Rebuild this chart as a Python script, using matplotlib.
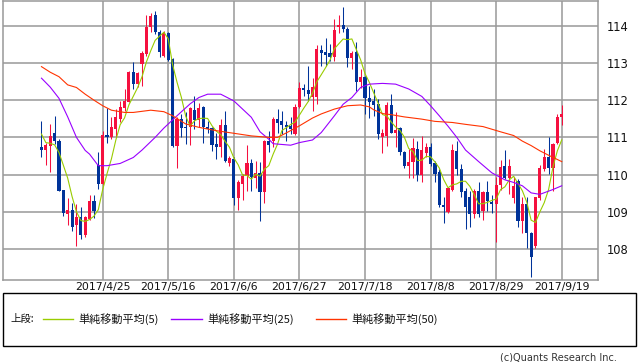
import matplotlib
matplotlib.use("Agg")
import matplotlib.pyplot as plt
import numpy as np
import pandas as pd
from matplotlib.lines import Line2D
from matplotlib.patches import Rectangle

# ---- data (USD/JPY daily) ----
dates = pd.bdate_range("2017-04-05", "2017-09-19")
opens = [110.75,110.66,110.76,111.11,110.91,109.59,108.95,109.05,108.64,108.87,
         108.37,108.81,109.30,110.25,109.74,111.07,111.00,111.22,111.50,111.80,
         111.94,112.75,112.43,112.97,113.24,113.96,114.30,113.82,113.19,113.79,
         113.10,110.77,111.49,111.29,111.28,111.74,111.47,111.82,111.285,111.24,
         110.82,110.73,111.34,110.31,110.42,109.37,109.76,109.97,110.32,109.90,
         110.04,109.52,110.91,110.91,111.49,111.45,111.34,111.31,111.09,111.82,
         112.32,112.27,112.09,112.09,113.35,113.28,113.26,113.17,113.96,114.03,
         113.91,113.13,113.28,112.48,112.61,112.06,111.98,111.89,111.02,111.04,
         111.87,111.13,111.25,110.62,110.22,110.33,110.70,110.00,110.57,110.73,
         110.30,110.06,109.19,109.00,109.59,110.64,110.16,109.55,109.39,108.94,
         109.55,109.03,109.54,109.27,109.22,109.72,110.22,109.92,109.37,109.82,
         108.76,109.22,108.44,108.09,109.37,110.15,110.46,110.19,110.84,111.54]
highs = [111.45,110.86,111.36,111.58,110.95,109.59,109.38,109.25,109.21,109.12,
         108.90,109.45,109.45,110.61,111.18,111.78,111.54,111.76,111.98,112.30,
         112.77,113.03,112.76,113.33,114.30,114.33,114.39,113.88,113.85,113.82,
         113.12,111.54,111.63,111.67,111.82,112.12,111.91,111.85,111.45,111.27,
         111.13,111.49,111.72,110.51,110.46,109.86,110.01,110.80,110.42,110.37,
         110.34,110.93,111.18,111.54,111.76,111.70,111.45,111.54,111.89,112.48,
         112.43,112.92,112.59,113.49,113.48,113.67,113.51,114.18,114.30,114.51,
         113.96,113.33,113.55,112.84,112.66,112.39,112.30,112.03,111.22,111.94,
         112.16,111.67,111.28,110.64,110.68,110.98,110.91,111.04,110.86,110.86,
         110.37,110.15,109.39,109.65,110.82,110.91,110.28,109.65,109.56,109.61,
         109.81,109.56,109.83,109.45,109.94,110.39,110.67,110.42,109.94,109.88,
         109.39,109.39,108.46,109.40,110.25,110.68,111.02,110.86,111.63,111.88]
lows = [110.48,110.26,110.08,110.82,109.55,108.89,108.65,108.49,108.07,108.27,
        108.32,108.77,108.83,109.61,109.72,110.84,110.95,111.00,111.40,111.72,
        111.94,112.30,112.34,112.39,113.19,113.82,113.78,113.15,113.15,113.06,
        110.73,110.19,111.00,110.82,110.80,111.22,111.28,110.84,111.11,110.64,
        110.42,110.46,110.35,110.22,109.19,109.05,109.32,109.56,109.56,109.65,
        108.76,109.23,110.62,110.73,111.13,111.09,110.91,111.09,111.07,111.80,
        112.12,111.98,111.70,111.89,112.92,112.91,113.06,113.06,113.79,113.82,
        112.88,112.84,112.24,112.32,111.64,111.52,111.58,110.95,110.57,110.77,
        111.11,110.73,110.53,110.19,109.90,109.92,109.83,109.79,110.46,110.24,
        109.79,109.12,108.69,108.98,109.56,109.99,109.39,108.55,108.58,108.83,
        108.87,108.78,109.03,108.98,108.20,109.59,109.88,109.47,109.25,108.58,
        108.44,108.02,107.25,108.04,109.32,110.10,110.03,109.55,110.82,111.34]
closes = [110.66,110.80,111.04,110.91,109.56,108.96,109.05,108.58,108.87,108.37,
          108.85,109.30,109.03,109.74,111.07,111.00,111.27,111.54,111.82,111.98,
          112.75,112.43,112.72,113.26,113.96,114.27,113.82,113.28,113.79,113.09,
          110.77,111.49,111.24,111.24,111.78,111.47,111.80,111.28,111.22,110.80,
          110.73,111.34,110.37,110.44,109.37,109.79,109.97,110.32,109.94,110.04,
          109.52,110.91,110.80,111.49,111.38,111.34,111.29,111.22,111.82,112.32,
          112.27,112.16,112.36,113.37,113.26,113.22,113.17,113.88,114.03,113.91,
          113.13,113.27,112.48,112.63,112.06,111.94,111.87,111.09,111.11,111.87,
          111.13,111.20,110.62,110.22,110.34,110.71,110.00,110.67,110.73,110.28,
          110.03,109.18,109.12,109.63,110.67,110.16,109.52,109.13,108.94,109.55,
          108.94,109.54,109.30,109.21,109.72,110.21,109.92,110.23,109.70,108.76,
          109.22,108.42,107.79,109.39,110.17,110.46,110.19,110.82,111.55,111.64]

# first four 5-day averages (earlier closes are off-chart)
ma5_head = [111.09, 110.86, 110.84, 110.80]

ma25_idx = [0,2,4,6,8,10,11,13,15,18,21,23,26,28,31,34,36,38,41,44,46,48,50,52,53,57,
            59,62,64,67,69,71,73,75,78,81,84,87,89,91,93,95,97,100,103,106,108,110,112,114,117,119]
ma25_val = [112.59,112.35,112.05,111.55,111.00,110.65,110.55,110.24,110.24,110.30,110.46,110.66,
            111.00,111.25,111.58,111.90,112.07,112.16,112.16,111.98,111.76,111.54,111.15,110.95,
            110.83,110.79,110.86,110.93,111.13,111.58,111.89,112.07,112.34,112.43,112.45,112.43,
            112.30,112.10,111.85,111.58,111.30,111.00,110.66,110.35,110.05,109.86,109.79,109.70,
            109.51,109.47,109.60,109.70]

ma50_idx = [0,2,4,6,8,10,12,14,16,19,21,23,25,28,30,33,36,40,44,48,52,54,56,59,62,64,67,70,
            73,75,76,78,80,83,87,90,94,97,101,103,105,108,110,112,114,116,119]
ma50_val = [112.90,112.75,112.63,112.41,112.34,112.16,112.00,111.85,111.73,111.67,111.67,111.70,
            111.73,111.69,111.58,111.36,111.27,111.18,111.11,111.04,111.00,111.00,111.12,111.31,
            111.52,111.63,111.76,111.85,111.87,111.82,111.74,111.64,111.61,111.55,111.49,111.43,
            111.40,111.35,111.29,111.22,111.15,111.05,110.90,110.78,110.64,110.52,110.35]

tick_dates = ["2017-04-25","2017-05-16","2017-06-06","2017-06-27",
              "2017-07-18","2017-08-08","2017-08-29","2017-09-19"]
y_ticks = [108, 109, 110, 111, 112, 113, 114]
legend_labels = ["単純移動平均(5)", "単純移動平均(25)", "単純移動平均(50)"]

# ---- styling ----
UP = "#F5103F"
DOWN = "#003399"
C5 = "#99CC00"
C25 = "#9900FF"
C50 = "#FF3300"
GRID = "#999999"

W, H = 638, 362
fig = plt.figure(figsize=(W/100, H/100), dpi=100)
ax = fig.add_axes([3/W, 1-280/H, 595/W, 280/H - 0.002])

o = np.array(opens); h = np.array(highs); l = np.array(lows); c = np.array(closes)
x = np.arange(len(o))
up = c >= o
cols = np.where(up, UP, DOWN)

ax.vlines(x, l, h, colors=cols, linewidth=0.75, zorder=3)
body_lo = np.minimum(o, c)
body_h = np.maximum(np.abs(c - o), 0.03)
ax.bar(x, body_h, bottom=body_lo, width=0.72, color=cols, edgecolor=cols,
       linewidth=0, zorder=4)

ma5 = pd.Series(closes).rolling(5).mean().to_numpy()
ma5[:4] = ma5_head
ax.plot(x, ma5, color=C5, lw=0.8, zorder=5)
ax.plot(ma25_idx, ma25_val, color=C25, lw=0.8, zorder=5)
ax.plot(ma50_idx, ma50_val, color=C50, lw=0.8, zorder=5)

ax.set_xlim(-8.8, 127.3)
ax.set_ylim(107.17, 114.67)

date_list = list(dates.strftime("%Y-%m-%d"))
tpos = [date_list.index(d) for d in tick_dates]
tlab = [f"{pd.Timestamp(d).year}/{pd.Timestamp(d).month}/{pd.Timestamp(d).day}" for d in tick_dates]
ax.set_xticks(tpos)
ax.set_xticklabels(tlab, fontsize=7.8, color="#111111")
ax.set_yticks(y_ticks)
ax.set_yticklabels([str(v) for v in y_ticks], fontsize=8.3, color="#111111")
ax.yaxis.tick_right()
ax.tick_params(axis="both", length=0)
ax.tick_params(axis="y", pad=6.5)
ax.tick_params(axis="x", pad=1.5)
ax.grid(True, color=GRID, lw=1.1, zorder=0)
ax.set_axisbelow(True)
for s in ax.spines.values():
    s.set_color(GRID)
    s.set_linewidth(1.1)

# ---- legend box ----
jp = ["Noto Sans CJK JP", "DejaVu Sans"]
fig.add_artist(Rectangle((3/W, 1-346/H), 633/W, 53/H, transform=fig.transFigure,
                         fill=False, edgecolor="black", lw=1.0))
ly = 1 - 319/H
fig.text(10/W, ly, "上段:", family=jp, fontsize=7.5, va="center", ha="left", color="#111111")
segs = [(43, 73, 78), (171, 202, 207), (316, 346, 351)]
for (x0, x1, tx), col, lab in zip(segs, [C5, C25, C50], legend_labels):
    fig.add_artist(Line2D([x0/W, x1/W], [ly, ly], transform=fig.transFigure, color=col, lw=1.0))
    fig.text(tx/W, ly, lab, family=jp, fontsize=8, va="center", ha="left", color="#111111")

fig.text(617/W, 1-357/H, "(c)Quants Research Inc.", fontsize=7, ha="right", va="center",
         color="#333333")

fig.savefig("out.png", dpi=100)
